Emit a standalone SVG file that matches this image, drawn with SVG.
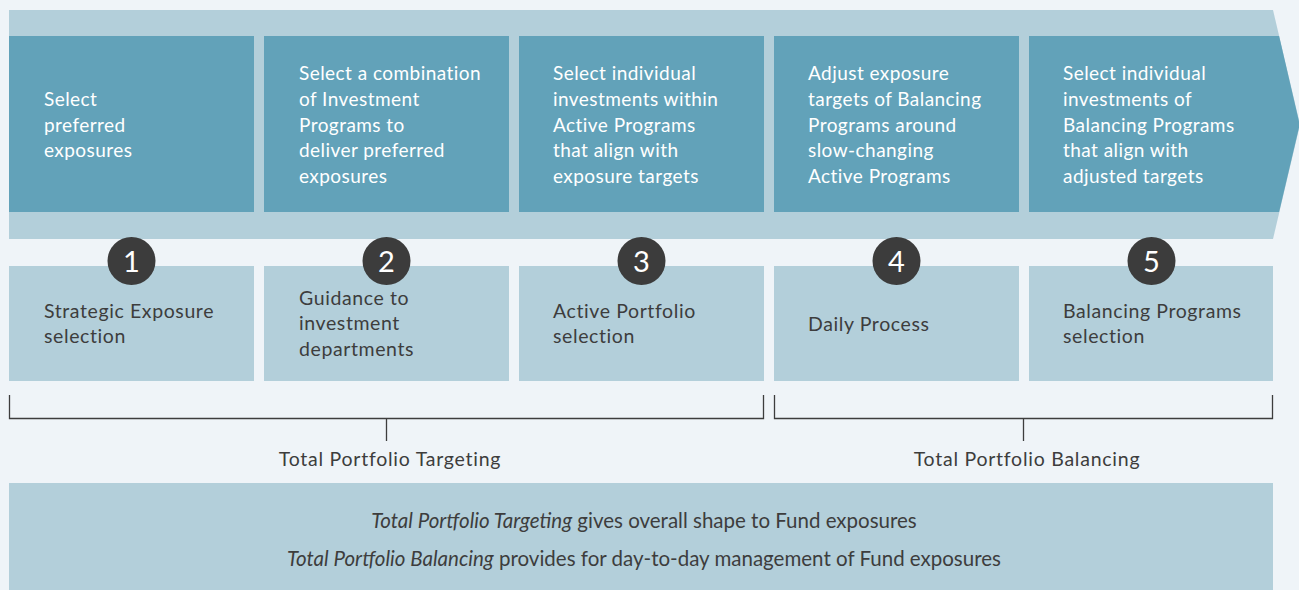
<svg xmlns="http://www.w3.org/2000/svg" width="1299" height="590" viewBox="0 0 1299 590">
<style>
.light{fill:#b3cfda}
.dark{fill:#62a2b9}
.wt{font-family:Lato,"Liberation Sans",sans-serif;font-size:19px;fill:#ffffff;letter-spacing:0.45px}
.dt{font-family:Lato,"Liberation Sans",sans-serif;font-size:19.5px;fill:#3d3d3d;letter-spacing:0.6px}
.lb{font-family:Lato,"Liberation Sans",sans-serif;font-size:19.5px;fill:#3d3d3d;letter-spacing:0.75px;text-anchor:middle}
.it{font-family:Lato,"Liberation Sans",sans-serif;font-size:20.5px;fill:#3d3d3d;text-anchor:middle}
.num circle{fill:#3c3c3c}
.num text{font-family:Lato,"Liberation Sans",sans-serif;font-size:29px;fill:#ffffff;text-anchor:middle}
.br{fill:none;stroke:#3d3d3d;stroke-width:1.3}
</style>
<rect width="1299" height="590" fill="#eff4f8"/>
<polygon id="band" class="light" points="9,10 1273,10 1300,124.5 1273,239 9,239"/>
<g id="step1">
<rect class="dark" x="9" y="36" width="245" height="176"/>
<text class="wt"><tspan x="44" y="106">Select</tspan><tspan x="44" y="132">preferred</tspan><tspan x="44" y="157">exposures</tspan></text>
<rect class="light" x="9" y="266" width="245" height="115"/>
<text class="dt"><tspan x="44" y="318">Strategic Exposure</tspan><tspan x="44" y="343">selection</tspan></text>
<g class="num"><circle cx="131.5" cy="261" r="24"/><text x="131.5" y="271.5">1</text></g>
</g>
<g id="step2">
<rect class="dark" x="264" y="36" width="245" height="176"/>
<text class="wt"><tspan x="299" y="80">Select a combination</tspan><tspan x="299" y="106">of Investment</tspan><tspan x="299" y="132">Programs to</tspan><tspan x="299" y="157">deliver preferred</tspan><tspan x="299" y="183">exposures</tspan></text>
<rect class="light" x="264" y="266" width="245" height="115"/>
<text class="dt"><tspan x="299" y="305">Guidance to</tspan><tspan x="299" y="330">investment</tspan><tspan x="299" y="356">departments</tspan></text>
<g class="num"><circle cx="386.5" cy="261" r="24"/><text x="386.5" y="271.5">2</text></g>
</g>
<g id="step3">
<rect class="dark" x="519" y="36" width="245" height="176"/>
<text class="wt"><tspan x="553" y="80">Select individual</tspan><tspan x="553" y="106">investments within</tspan><tspan x="553" y="132">Active Programs</tspan><tspan x="553" y="157">that align with</tspan><tspan x="553" y="183">exposure targets</tspan></text>
<rect class="light" x="519" y="266" width="245" height="115"/>
<text class="dt"><tspan x="553" y="318">Active Portfolio</tspan><tspan x="553" y="343">selection</tspan></text>
<g class="num"><circle cx="641.5" cy="261" r="24"/><text x="641.5" y="271.5">3</text></g>
</g>
<g id="step4">
<rect class="dark" x="774" y="36" width="245" height="176"/>
<text class="wt"><tspan x="808" y="80">Adjust exposure</tspan><tspan x="808" y="106">targets of Balancing</tspan><tspan x="808" y="132">Programs around</tspan><tspan x="808" y="157">slow-changing</tspan><tspan x="808" y="183">Active Programs</tspan></text>
<rect class="light" x="774" y="266" width="245" height="115"/>
<text class="dt"><tspan x="808" y="331">Daily Process</tspan></text>
<g class="num"><circle cx="896.5" cy="261" r="24"/><text x="896.5" y="271.5">4</text></g>
</g>
<g id="step5">
<polygon class="dark" points="1029,36 1279.1,36 1299.7,124.5 1279.1,212 1029,212"/>
<text class="wt"><tspan x="1063" y="80">Select individual</tspan><tspan x="1063" y="106">investments of</tspan><tspan x="1063" y="132">Balancing Programs</tspan><tspan x="1063" y="157">that align with</tspan><tspan x="1063" y="183">adjusted targets</tspan></text>
<rect class="light" x="1029" y="266" width="244" height="115"/>
<text class="dt"><tspan x="1063" y="318">Balancing Programs</tspan><tspan x="1063" y="343">selection</tspan></text>
<g class="num"><circle cx="1151.5" cy="261" r="24"/><text x="1151.5" y="271.5">5</text></g>
</g>
<g id="connectors">
<path class="br" d="M9.5,395 V418.5 H763.5 V395 M386.5,418.5 V441"/>
<path class="br" d="M774.5,395 V418.5 H1272.5 V395 M1023.5,418.5 V441"/>
</g>
<g id="targeting-label"><text class="lb" x="390" y="466">Total Portfolio Targeting</text></g>
<g id="balancing-label"><text class="lb" x="1027" y="466">Total Portfolio Balancing</text></g>
<g id="summary">
<rect class="light" x="9" y="483" width="1264" height="107"/>
<text class="it" x="644" y="528"><tspan font-style="italic">Total Portfolio Targeting</tspan> gives overall shape to Fund exposures</text>
<text class="it" x="644" y="566"><tspan font-style="italic">Total Portfolio Balancing</tspan> provides for day-to-day management of Fund exposures</text>
</g>
</svg>
